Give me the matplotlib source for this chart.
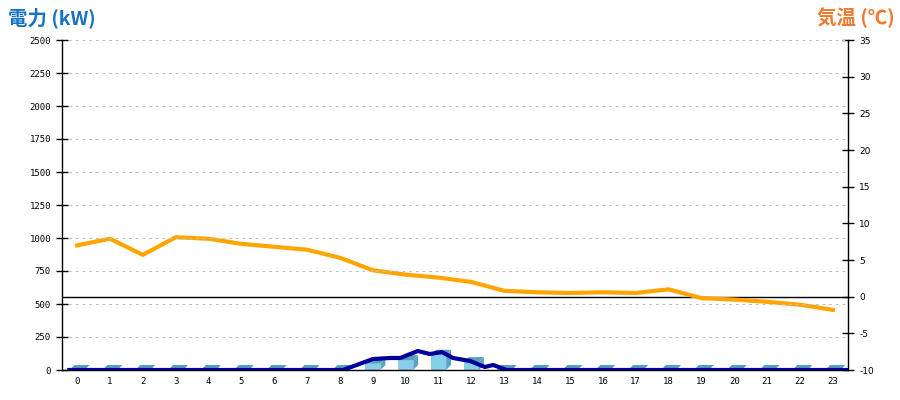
import matplotlib
matplotlib.use("Agg")
import matplotlib.pyplot as plt
from matplotlib.patches import Polygon, Rectangle

hours = list(range(24))
hour_labels = [str(h) for h in hours]

# hourly power (kW) bars
power_bars = [0, 0, 0, 0, 0, 0, 0, 0, 0, 50, 75, 115, 60, 0,
              0, 0, 0, 0, 0, 0, 0, 0, 0, 0]

# power trace (kW) at finer time resolution, in hour-label units
trace_x = [-0.3, 8.09, 9.0, 9.52, 9.83, 10.37, 10.73, 11.1, 11.44, 11.96,
           12.41, 12.66, 13.08, 23.46]
trace_kw = [0, 0, 83, 91, 91, 144, 121, 136, 91, 68, 23, 38, 0, 0]

# temperature (°C)
temp = [7.0, 7.9, 5.7, 8.1, 7.9, 7.2, 6.8, 6.4, 5.3, 3.6, 3.0, 2.6, 2.0, 0.8,
        0.6, 0.5, 0.6, 0.5, 1.0, -0.2, -0.4, -0.7, -1.1, -1.8]

left_ticks = list(range(0, 2501, 250))
right_ticks = list(range(-10, 36, 5))

fig = plt.figure(figsize=(9, 4), dpi=100)
ax = fig.add_axes([62/900, 30/400, (848-62)/900, 330/400])
ax.set_xlim(-0.46, 23.46)
ax.set_ylim(0, 2500)

# grid
for t in left_ticks[1:]:
    ax.axhline(t, color="#c0c0c0", lw=0.8, ls=(0, (2.5, 3.5)), zorder=0)

# 3D bars
half_w = 0.23
dx = 0.15
dy = 38
front_c = "#87CEEB"
side_c = "#5BA3C4"
top_c = "#5A9EBF"
for x, v in zip(hours, power_bars):
    if v > 0:
        ax.add_patch(Rectangle((x - half_w, 0), 2*half_w, v, facecolor=front_c,
                               edgecolor="none", zorder=2))
        ax.add_patch(Polygon([(x + half_w, 0), (x + half_w + dx, dy),
                              (x + half_w + dx, v + dy), (x + half_w, v)],
                             closed=True, facecolor=side_c, edgecolor="none", zorder=2))
    ax.add_patch(Polygon([(x - half_w, v), (x + half_w, v),
                          (x + half_w + dx, v + dy), (x - half_w + dx, v + dy)],
                         closed=True, facecolor=top_c, edgecolor="none", zorder=2))

ax.plot(trace_x, trace_kw, color="#000099", lw=3.0, zorder=4, solid_capstyle="butt")

ax.set_yticks(left_ticks)
ax.set_yticklabels([str(t) for t in left_ticks], fontsize=6.5, family="DejaVu Sans Mono")
ax.set_xticks(hours)
ax.set_xticklabels(hour_labels, fontsize=6.5, family="DejaVu Sans Mono")
ax.tick_params(axis="x", length=0, pad=5)
ax.tick_params(axis="y", direction="inout", length=8, width=1, pad=4)
ax.spines["top"].set_visible(False)
ax.spines["right"].set_visible(False)
ax.spines["left"].set_linewidth(1)
ax.spines["bottom"].set_linewidth(1)
ax.patch.set_visible(False)

ax2 = ax.twinx()
ax2.set_ylim(-10, 35)
ax2.axhline(0, color="black", lw=1, zorder=3)
ax2.plot(hours, temp, color="#FFA500", lw=3.0, zorder=5)
ax2.set_yticks(right_ticks)
ax2.set_yticklabels([str(t) for t in right_ticks], fontsize=6.5, family="DejaVu Sans")
ax2.tick_params(axis="y", direction="inout", length=8, width=1, pad=4)
ax2.spines["top"].set_visible(False)
ax2.spines["left"].set_visible(False)
ax2.spines["bottom"].set_visible(False)
ax2.spines["right"].set_linewidth(1)
ax.set_zorder(ax2.get_zorder() + 1)

fig.text(8/900, 1 - 18/400, "電力 (kW)", color="#1A73C0", fontsize=14,
         fontweight="bold", family=["Noto Sans CJK JP", "DejaVu Sans"], va="center", ha="left")
fig.text(895/900, 1 - 18/400, "気温 (℃)", color="#EE7A2E", fontsize=14,
         fontweight="bold", family=["Noto Sans CJK JP", "DejaVu Sans"], va="center", ha="right")

fig.savefig("out.png", dpi=100)
